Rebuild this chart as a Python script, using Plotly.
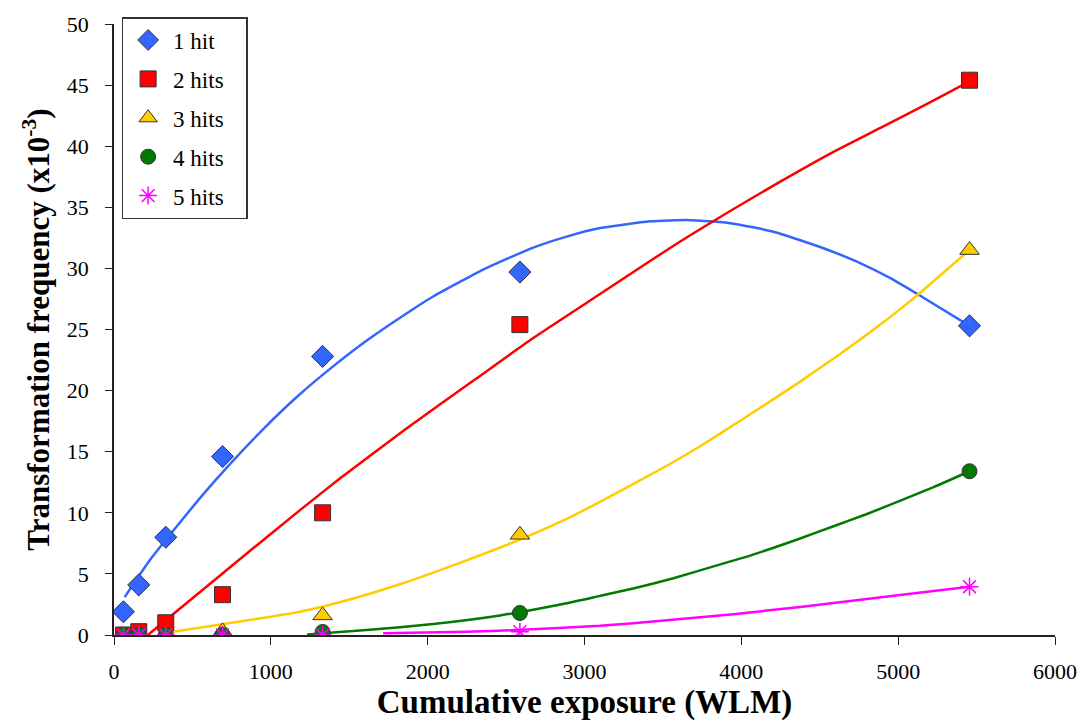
import plotly.graph_objects as go

# Observed data (WLM, transformation frequency x10^-3)
exposure = [60, 158, 330, 692, 1330, 2588, 5455]
hit1 = [1.9, 4.1, 8.0, 14.6, 22.8, 29.7, 25.3]
hit2 = [0.0, 0.27, 1.0, 3.3, 10.0, 25.4, 45.4]
hit3 = [0.0, 0.0, 0.0, 0.3, 1.6, 8.2, 31.5]
hit4 = [0.0, 0.0, 0.0, 0.0, 0.25, 1.8, 13.4]
hit5 = [0.0, 0.0, 0.0, 0.0, 0.0, 0.27, 3.95]

# Trend curves
trend1_x = [68, 227, 548, 719, 963, 1176, 1389, 1601, 1899, 2035, 2354, 2673, 2886, 3099,
            3418, 3673, 3929, 4205, 4524, 4737, 4950, 5162, 5455]
trend1_y = [3.1, 6.1, 11.2, 13.7, 17.0, 19.6, 21.9, 24.0, 26.6, 27.7, 29.9, 31.7, 32.6, 33.3,
            33.85, 33.95, 33.7, 33.0, 31.65, 30.55, 29.2, 27.6, 25.3]
trend2_x = [216, 802, 1184, 1440, 1865, 2301, 2673, 3099, 3418, 3610, 3929, 4248, 4567, 4887,
            5206, 5455]
trend2_y = [0.0, 6.2, 10.2, 12.8, 16.9, 20.9, 24.3, 27.9, 30.6, 32.2, 34.7, 37.1, 39.4, 41.5,
            43.6, 45.3]
trend3_x = [344, 1185, 1503, 1822, 2141, 2567, 2886, 3099, 3525, 3737, 4013, 4354, 4630,
            4865, 5098, 5396, 5455]
trend3_y = [0.2, 1.9, 2.9, 4.15, 5.6, 7.7, 9.5, 10.9, 13.85, 15.45, 17.7, 20.55, 23.0,
            25.2, 27.55, 30.85, 31.5]
trend4_x = [1231, 1610, 2035, 2462, 2886, 3099, 3311, 3567, 3844, 4056, 4375, 4588, 4801, 5014,
            5226, 5455]
trend4_y = [0.05, 0.4, 0.9, 1.6, 2.6, 3.2, 3.8, 4.65, 5.7, 6.5, 7.9, 8.9, 9.9, 11.0,
            12.1, 13.4]
trend5_x = [1716, 2248, 2567, 3099, 3525, 3950, 4375, 4801, 5226, 5455]
trend5_y = [0.15, 0.27, 0.4, 0.75, 1.2, 1.7, 2.3, 2.95, 3.6, 3.95]

names = ["1 hit", "2 hits", "3 hits", "4 hits", "5 hits"]
colors = ["#3366FF", "#FF0000", "#FFCC00", "#007A00", "#FF00FF"]

fig = go.Figure()

trends = [(trend1_x, trend1_y), (trend2_x, trend2_y), (trend3_x, trend3_y),
          (trend4_x, trend4_y), (trend5_x, trend5_y)]
for (tx, ty), c in zip(trends, colors):
    fig.add_trace(go.Scatter(x=tx, y=ty, mode="lines",
                             line=dict(color=c, width=2.5, shape="spline", smoothing=0.5),
                             showlegend=False, hoverinfo="skip"))

series = [hit1, hit2, hit3, hit4, hit5]
symbols = ["diamond", "square", "triangle-up", "circle", "asterisk-open"]
sizes = [17, 16, 17, 15, 15]
for ys, name, c, sym, sz in zip(series, names, colors, symbols, sizes):
    if sym == "asterisk-open":
        marker = dict(symbol=sym, size=sz, color=c, line=dict(color=c, width=1.5))
    else:
        marker = dict(symbol=sym, size=sz, color=c, line=dict(color="#333333", width=1))
    fig.add_trace(go.Scatter(x=exposure, y=ys, mode="markers", name=name + "\u00a0\u00a0\u00a0",
                             marker=marker, legendgroup=name))

fig.update_layout(
    width=1089, height=726,
    margin=dict(l=114, r=34, t=21, b=91),
    paper_bgcolor="white", plot_bgcolor="white",
    font=dict(family="Liberation Serif, Times New Roman, serif", color="black", size=22),
    legend=dict(x=0.0081, y=1.0114, xanchor="left", yanchor="top",
                bordercolor="#333333", borderwidth=1.5, bgcolor="white",
                font=dict(size=23), tracegroupgap=6, traceorder="grouped", itemwidth=40),
    showlegend=True,
)
fig.update_xaxes(range=[0, 6000], tickvals=[0, 1000, 2000, 3000, 4000, 5000, 6000],
                 showgrid=False, zeroline=False, showline=True, linecolor="#222222", linewidth=1.5,
                 ticks="outside", ticklen=8, tickcolor="#222222", tickfont=dict(size=22),
                 ticklabelstandoff=8,
                 title=dict(text="<b>Cumulative exposure (WLM)</b>", font=dict(size=33), standoff=4))
fig.update_yaxes(range=[0, 50], tickvals=list(range(0, 51, 5)),
                 showgrid=False, zeroline=False, showline=True, linecolor="#222222", linewidth=1.5,
                 ticks="outside", ticklen=7, tickcolor="#222222", tickfont=dict(size=22),
                 ticklabelstandoff=12,
                 title=dict(text="<b>Transformation frequency (x10<sup>-3</sup>)</b>", font=dict(size=31), standoff=8))

fig.write_html("out.html")
